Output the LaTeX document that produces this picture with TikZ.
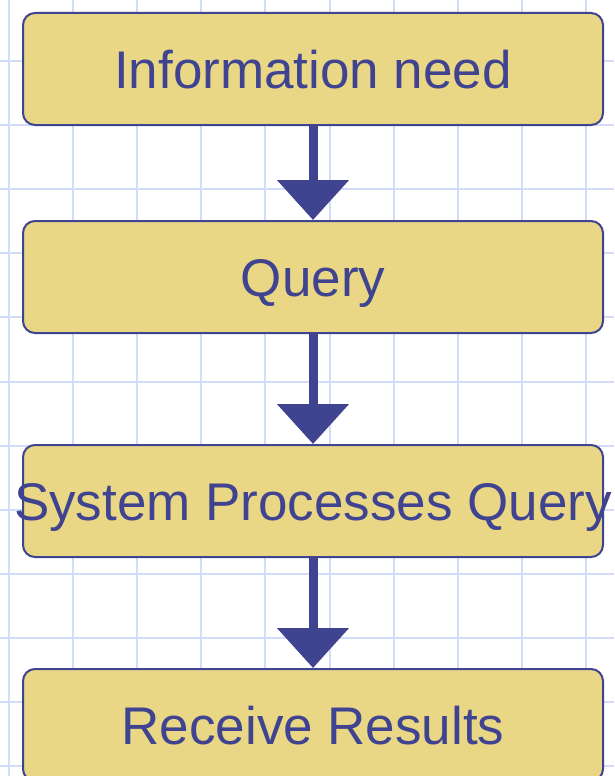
\documentclass[tikz,border=0pt]{standalone}
\usepackage{fontspec}
\setmainfont{Liberation Sans}
\usetikzlibrary{arrows.meta}

\definecolor{boxfill}{RGB}{233,215,134}
\definecolor{boxblue}{RGB}{64,68,144}
\definecolor{gridblue}{RGB}{208,220,250}

% text may run past the box edge, as in the slide
\newcommand{\overhang}[1]{\makebox[0pt][c]{#1}}

\tikzset{
    stage/.style={draw=boxblue, line width=2pt, fill=boxfill, rounded corners=12pt,
        minimum width=580pt, minimum height=112pt, inner sep=0pt,
        text height=39pt, text depth=0pt,
        text=boxblue, font=\fontsize{53}{60}\selectfont},
    flow/.style={draw=boxblue, line width=9pt,
        -{Triangle[width=70pt,length=40pt]}},
    gridline/.style={draw=gridblue, line width=2pt}
}

\begin{document}
\begin{tikzpicture}[x=1pt, y=-1pt]
    \useasboundingbox (0,0) rectangle (614,776);
    \fill[white] (0,0) rectangle (614,776);

    % Grid paper
    \foreach \i in {0,...,9} {
        \draw[gridline] (9+\i*64.1,0) -- (9+\i*64.1,776);
    }
    \foreach \j in {0,...,11} {
        \draw[gridline] (0,61+\j*64.1) -- (614,61+\j*64.1);
    }

    % Steps
    \node[stage] (need) at (313,69) {\overhang{Information need}};
    \node[stage] (query) at (313,277) {\overhang{Query}};
    \node[stage] (process) at (313,501) {\overhang{System Processes Query}};
    \node[stage] (results) at (313,725) {\overhang{Receive Results}};

    % Arrows
    \draw[flow] (need) -- (query);
    \draw[flow] (query) -- (process);
    \draw[flow] (process) -- (results);
\end{tikzpicture}
\end{document}
